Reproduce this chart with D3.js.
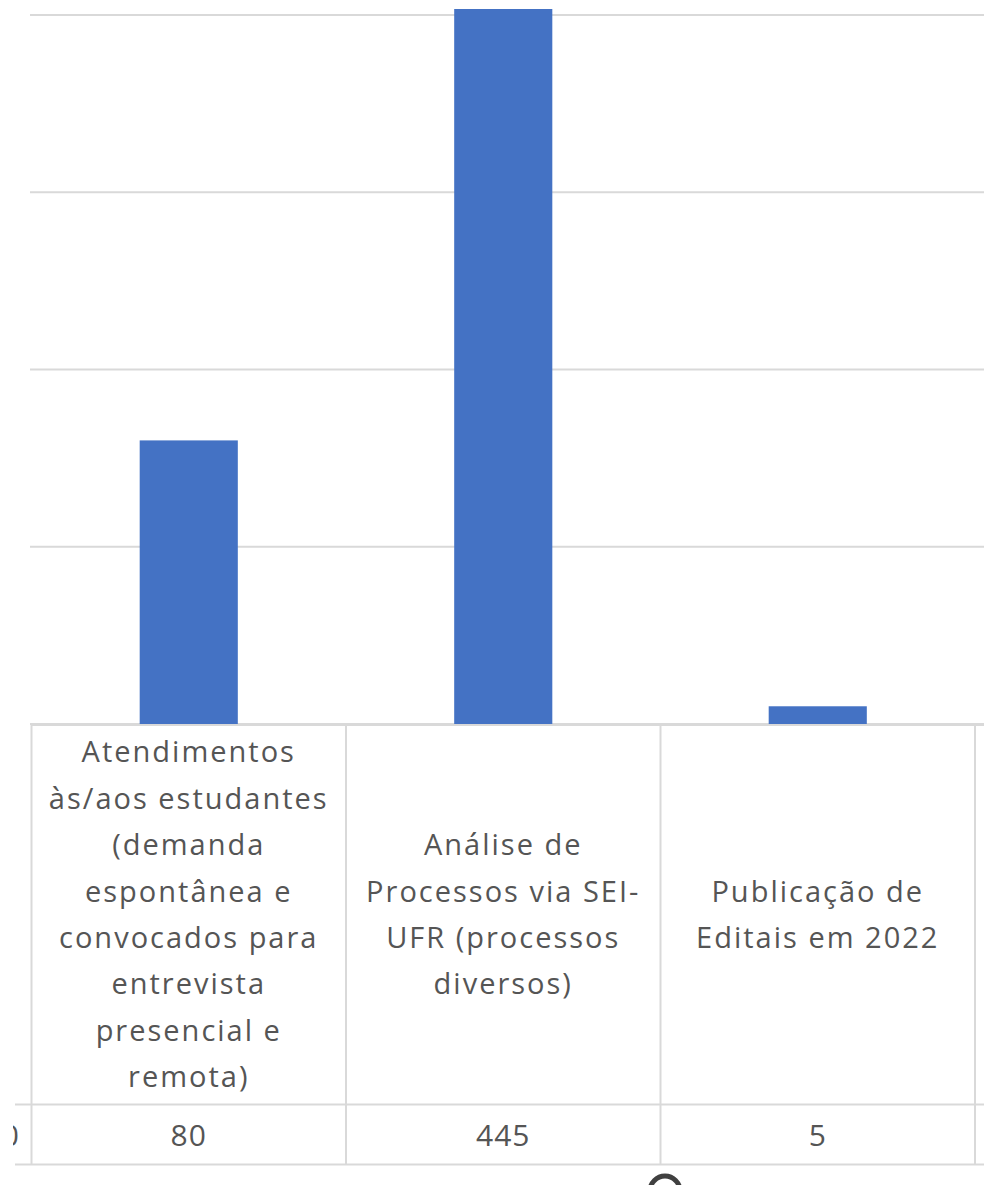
<!DOCTYPE html>
<html>
<head>
<meta charset="utf-8">
<script src="https://cdn.jsdelivr.net/npm/d3@7"></script>
<style>
  body { margin: 0; background: #fff; }
  svg { display: block; }
  text { font-family: "Open Sans", sans-serif; fill: #555555; }
</style>
</head>
<body>
<div id="chart"></div>
<script>
// data
var categories = ["Atendimentos", "Análise", "Publicação"];
var labelLines = [
  ["Atendimentos", "às/aos estudantes", "(demanda", "espontânea e", "convocados para", "entrevista", "presencial e", "remota)"],
  ["Análise de", "Processos via SEI-", "UFR (processos", "diversos)"],
  ["Publicação de", "Editais em 2022"]
];
var values = [80, 445, 5];
var yTicks = [0, 50, 100, 150, 200];

var W = 984, H = 1185;
var baseY = 724, topY = 9;
var tableTop = 725, rowSep = 1104.5, tableBottom = 1164.5;
var lineH = 46.4;

var svg = d3.select("#chart").append("svg")
  .attr("width", W).attr("height", H);

var x = d3.scaleBand().domain(categories).range([31.5, 975]).padding(0);
var y = d3.scaleLinear().domain([0, 200]).range([baseY, 15]);

// gridlines
svg.selectAll(".grid")
  .data(yTicks)
  .enter().append("line")
  .attr("x1", 30).attr("x2", W)
  .attr("y1", d => y(d)).attr("y2", d => y(d))
  .style("stroke", "#d9d9d9").style("stroke-width", 2);

// clip for plot area (tallest bar runs past the axis max)
svg.append("clipPath").attr("id", "plotClip")
  .append("rect").attr("x", 0).attr("y", topY).attr("width", W).attr("height", baseY - topY);

var barW = x.bandwidth() * 0.312;
svg.append("g").attr("clip-path", "url(#plotClip)")
  .selectAll(".bar")
  .data(values)
  .enter().append("rect")
  .attr("x", (d, i) => x(categories[i]) + x.bandwidth() / 2 - barW / 2)
  .attr("y", d => y(d))
  .attr("width", barW)
  .attr("height", d => baseY - y(d))
  .style("fill", "#4472c4");

// data table
var grid = svg.append("g").style("stroke", "#d9d9d9").style("stroke-width", 2);
grid.append("line").attr("x1", 31.5).attr("x2", W).attr("y1", tableTop).attr("y2", tableTop);
grid.append("line").attr("x1", 15).attr("x2", W).attr("y1", rowSep).attr("y2", rowSep);
grid.append("line").attr("x1", 15).attr("x2", W).attr("y1", tableBottom).attr("y2", tableBottom);
var edges = categories.map(c => x(c)).concat([x.range()[1]]);
grid.selectAll(".vline").data(edges).enter().append("line")
  .attr("x1", d => d).attr("x2", d => d)
  .attr("y1", tableTop).attr("y2", tableBottom);

// category labels
var midY = (tableTop + rowSep) / 2;
categories.forEach(function(c, i) {
  var lines = labelLines[i];
  var t = svg.append("text")
    .attr("text-anchor", "middle")
    .style("font-size", "29px")
    .style("letter-spacing", "2px");
  lines.forEach(function(l, j) {
    t.append("tspan")
      .attr("x", x(c) + x.bandwidth() / 2)
      .attr("y", midY + (j - (lines.length - 1) / 2) * lineH + 10)
      .text(l);
  });
});

// values row
svg.selectAll(".val")
  .data(values)
  .enter().append("text")
  .attr("x", (d, i) => x(categories[i]) + x.bandwidth() / 2)
  .attr("y", (rowSep + tableBottom) / 2 + 11)
  .attr("text-anchor", "middle")
  .style("font-size", "30px")
  .style("letter-spacing", "1px")
  .text(d => d);

// cut-off legend glyph at the left edge
svg.append("clipPath").attr("id", "leftClip")
  .append("rect").attr("x", 13).attr("y", 1110).attr("width", 10).attr("height", 50);
svg.append("text")
  .attr("clip-path", "url(#leftClip)")
  .attr("x", 19).attr("y", 1146)
  .attr("text-anchor", "end")
  .style("font-size", "30px")
  .text("0");

// partly visible icon at the bottom
svg.append("circle")
  .attr("cx", 665).attr("cy", 1191).attr("r", 15)
  .style("fill", "none").style("stroke", "#404040").style("stroke-width", 5);
</script>
</body>
</html>
